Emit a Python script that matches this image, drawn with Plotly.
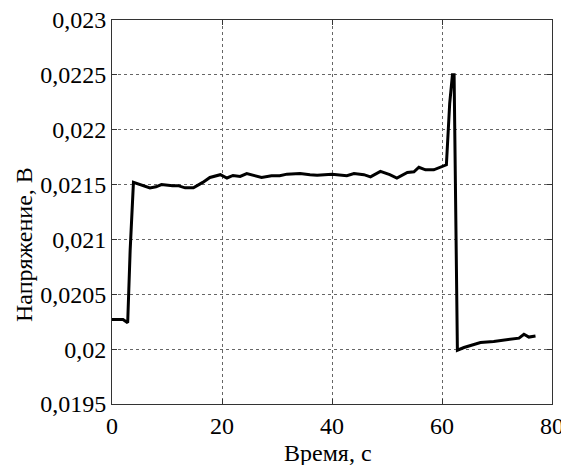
import plotly.graph_objs as go

# time [s] and voltage [V]
time_s = [0, 2.0, 2.85, 3.3, 3.9, 5.5, 6.9, 8.0, 9.0, 11.0, 12.0, 13.3, 14.8,
          16.5, 17.8, 19.7, 20.9, 22.0, 23.3, 24.5, 26.0, 27.2, 29.0, 30.5,
          31.8, 34.2, 36.0, 37.3, 40.0, 41.5, 42.7, 44.0, 45.8, 47.0, 48.8,
          50.5, 51.8, 53.7, 54.9, 55.8, 57.0, 58.5, 59.7, 60.8, 61.4, 61.9,
          62.2, 62.4, 62.8, 64.0, 65.5, 67.0, 69.4, 71.0, 73.1, 74.0, 74.9,
          75.8, 77.0]
voltage_v = [0.02027, 0.02027, 0.02024, 0.0209, 0.02152, 0.02149, 0.02147,
             0.02148, 0.0215, 0.02149, 0.02149, 0.02147, 0.02147, 0.02152,
             0.021565, 0.02159, 0.02156, 0.021583, 0.021574, 0.0216, 0.02158,
             0.021565, 0.02158, 0.02158, 0.021595, 0.0216, 0.02159, 0.021586,
             0.021595, 0.02159, 0.02158, 0.0216, 0.02159, 0.02157, 0.02162,
             0.02159, 0.02156, 0.02161, 0.021616, 0.021658, 0.021634,
             0.021634, 0.021655, 0.02168, 0.02224, 0.0225, 0.0225, 0.0217,
             0.01999, 0.020015, 0.02004, 0.02006, 0.02007, 0.02008, 0.02009,
             0.0201, 0.020136, 0.02011, 0.02012]

x_ticks = [0, 20, 40, 60, 80]
y_ticks = [0.0195, 0.02, 0.0205, 0.021, 0.0215, 0.022, 0.0225, 0.023]
y_labels = ["0,0195", "0,02", "0,0205", "0,021", "0,0215", "0,022", "0,0225", "0,023"]

FONT = "Times New Roman, Liberation Serif, serif"

trace = go.Scatter(x=time_s, y=voltage_v, mode="lines",
                   line=dict(color="black", width=3), showlegend=False)

axis_common = dict(showline=True, linecolor="#333", linewidth=1, mirror="ticks",
                   ticks="inside", ticklen=5, tickcolor="#333",
                   showgrid=True, gridcolor="#666", griddash="dot", gridwidth=1,
                   zeroline=False, automargin=False, ticklabeloverflow="allow",
                   tickfont=dict(family=FONT, size=24, color="black"))

# axis titles as annotations so they sit where the reference has them
titles = [
    dict(text="Время, с", x=0.491, y=-0.128, xref="paper", yref="paper",
         xanchor="center", yanchor="middle", showarrow=False,
         font=dict(family=FONT, size=24, color="black")),
    dict(text="Напряжение, В", x=-0.2, y=0.414, xref="paper", yref="paper",
         xanchor="center", yanchor="middle", textangle=-90, showarrow=False,
         font=dict(family=FONT, size=24, color="black")),
]

# page body has an 8px margin, so the figure is sized to fit the window
layout = go.Layout(
    width=561, height=457,
    margin=dict(l=104, r=17, t=12, b=61),
    paper_bgcolor="white", plot_bgcolor="white",
    font=dict(family=FONT, size=24, color="black"),
    xaxis=dict(range=[0, 80], tickvals=x_ticks, **axis_common),
    yaxis=dict(range=[0.0195, 0.023], tickvals=y_ticks, ticktext=y_labels,
               **axis_common),
    annotations=titles,
)

fig = go.Figure(data=[trace], layout=layout)
fig.write_html("out.html")
